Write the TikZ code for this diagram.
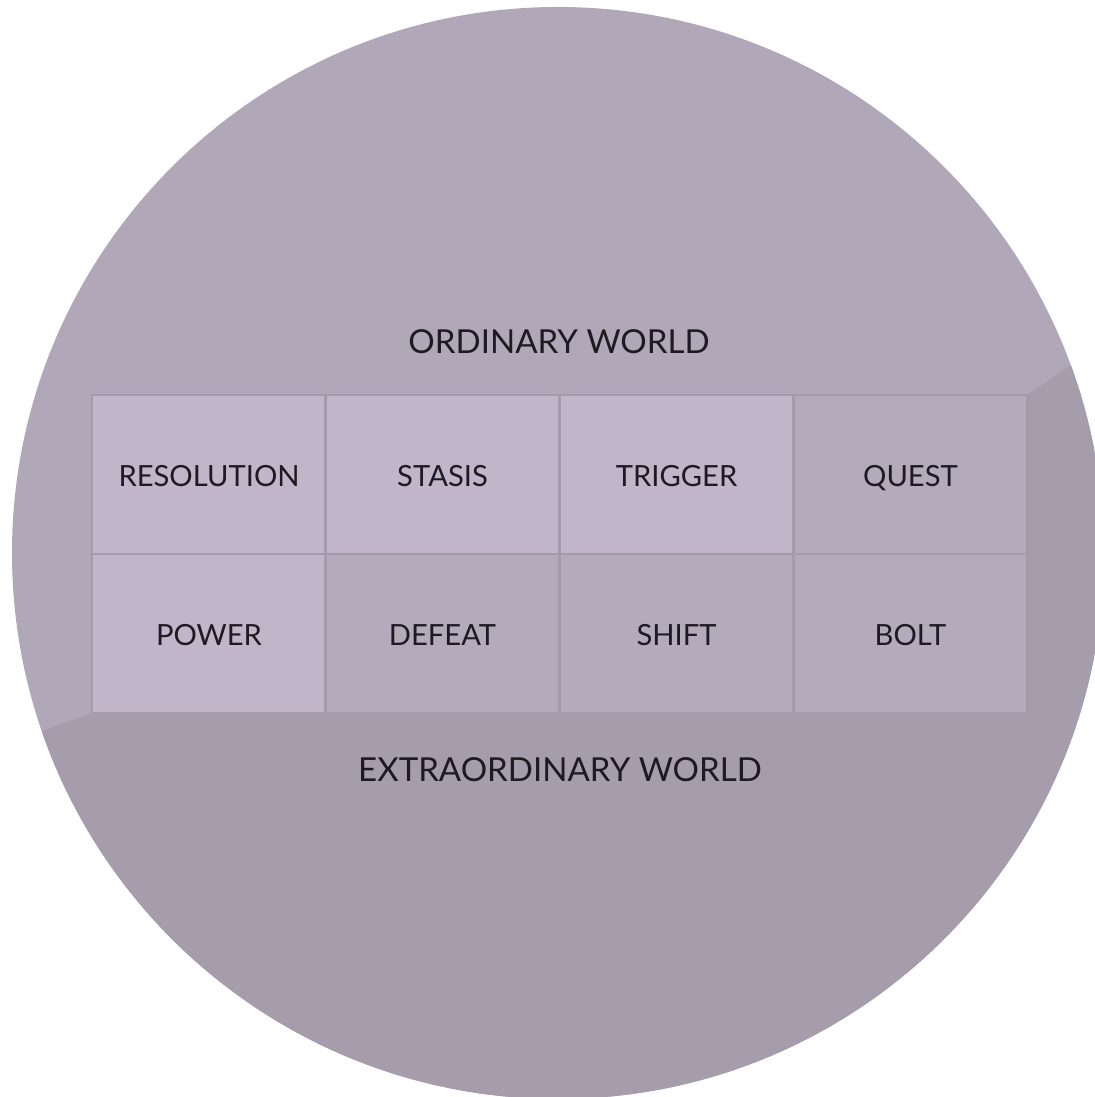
\documentclass[tikz,border=0pt]{standalone}
\usepackage{fontspec}
\setmainfont{Lato}
\usepackage{xcolor}
\usepackage{tikz}

\definecolor{upperworld}{HTML}{B0A8B9}
\definecolor{lowerworld}{HTML}{A59DAB}
\definecolor{lightcell}{HTML}{C1B5CA}
\definecolor{darkcell}{HTML}{B3AABB}
\definecolor{cellline}{HTML}{A39BAA}
\definecolor{inktext}{HTML}{1E1A22}

\tikzset{
	beat/.style={rectangle, minimum width=2.34cm, minimum height=1.59cm,
		inner sep=0pt, draw=cellline, line width=0.6pt,
		text height=1.6ex, text depth=0.3ex,
		font=\fontsize{8.3}{10}\selectfont, text=inktext},
	world/.style={font=\fontsize{9.4}{11}\selectfont, text=inktext},
}

\begin{document}
\begin{tikzpicture}
	\clip (0,0) rectangle (10.95,10.97);
	%
	% the two worlds
	\fill[upperworld] (5.58,5.44) circle (5.46);
	\begin{scope}
		\clip (5.58,5.44) circle (5.46);
		\fill[lowerworld] (0,3.51) -- (0.92,3.84) -- (10.27,3.84) -- (10.27,7.02)
			-- (11,7.51) -- (11,-0.1) -- (0,-0.1) -- cycle;
	\end{scope}
	%
	% top row
	\node[beat,fill=lightcell] (res) at (2.09,6.225) {RESOLUTION};
	\node[beat,fill=lightcell] (sta) at (4.425,6.225) {STASIS};
	\node[beat,fill=lightcell] (tri) at (6.765,6.225) {TRIGGER};
	\node[beat,fill=darkcell] (que) at (9.105,6.225) {QUEST};
	% bottom row
	\node[beat,fill=lightcell] (pow) at (2.09,4.635) {POWER};
	\node[beat,fill=darkcell] (def) at (4.425,4.635) {DEFEAT};
	\node[beat,fill=darkcell] (shi) at (6.765,4.635) {SHIFT};
	\node[beat,fill=darkcell] (bol) at (9.105,4.635) {BOLT};
	%
	\node[world] (ord) at (5.59,7.55) {ORDINARY WORLD};
	\node[world] (ext) at (5.60,3.27) {EXTRAORDINARY WORLD};
\end{tikzpicture}
\end{document}
